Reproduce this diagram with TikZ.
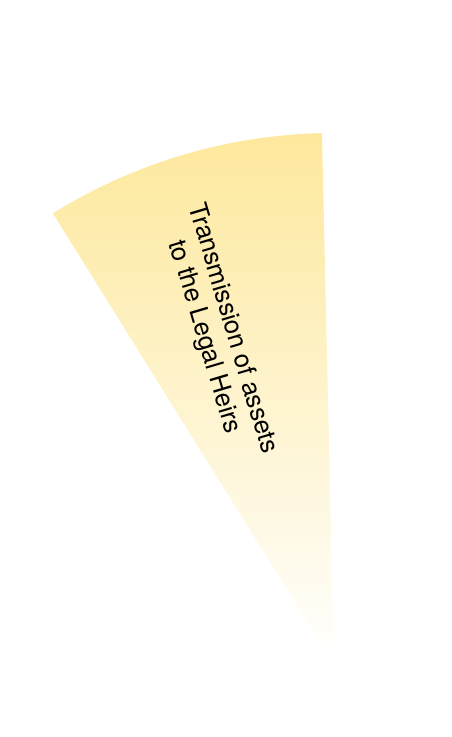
\documentclass[tikz,border=0pt]{standalone}
\usepackage{fontspec}
\setmainfont{TeX Gyre Heros}
\usepackage{tikz}

\definecolor{HeirYellow}{RGB}{253,232,156}

\begin{document}
\begin{tikzpicture}[x=1pt, y=1pt]
	\useasboundingbox (0,0) rectangle (451,737);

	\coordinate (apex) at (334,72);
	\shade[top color=HeirYellow, bottom color=white] (apex) -- ++(121.9:532) arc[start angle=121.9, end angle=91.3, radius=532] -- cycle;

	\node[rotate=-73.4, align=center, inner sep=0pt, font=\fontsize{25.6}{29.5}\selectfont] (heirs) at (218,404) {Transmission of assets\\to the Legal Heirs};
\end{tikzpicture}
\end{document}
